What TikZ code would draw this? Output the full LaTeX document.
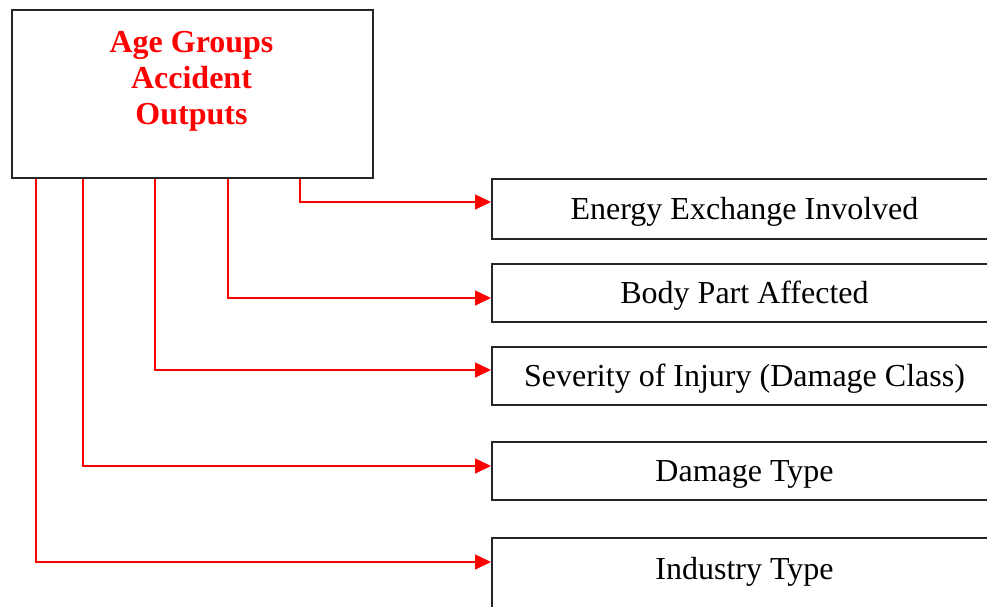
\documentclass[tikz,border=0pt]{standalone}
\usepackage{fontspec}
\setmainfont{Liberation Serif}
\usetikzlibrary{arrows.meta}
\begin{document}
\begin{tikzpicture}[x=1pt,y=-1pt,
  boxline/.style={draw=black!85,line width=2pt},
  outbox/.style={boxline,rectangle,anchor=north west,minimum width=505pt,inner sep=0pt,
     text height=27pt,text depth=7pt,font=\fontsize{32}{36}\selectfont},
  conn/.style={draw=red,line width=1.5pt,-{Triangle[length=16pt,width=15pt]}},
  titletext/.style={text=red,font=\fontsize{32}{36}\bfseries\selectfont,align=center}]
\useasboundingbox (0,0) rectangle (987,606);
\clip (0,0) rectangle (987,606);
\node[boxline,rectangle,anchor=north west,minimum width=361pt,minimum height=168pt,inner sep=0pt] (top) at (11,9) {};
\node[titletext] (title) at (191.5,81) {Age Groups\\Accident\\Outputs};
\node[outbox,minimum height=60pt] (b1) at (491,178) {Energy Exchange Involved};
\node[outbox,minimum height=58pt] (b2) at (491,263) {Body Part Affected};
\node[outbox,minimum height=58pt] (b3) at (491,346) {Severity of Injury (Damage Class)};
\node[outbox,minimum height=58pt] (b4) at (491,441) {Damage Type};
\node[outbox,text height=41pt,text depth=40pt] (b5) at (491,537) {Industry Type};
\draw[conn] ([xshift=289pt]top.south west) |- ([yshift=7pt]b1.west);
\draw[conn] ([xshift=217pt]top.south west) |- ([yshift=-5pt]b2.west);
\draw[conn] ([xshift=144pt]top.south west) |- ([yshift=6pt]b3.west);
\draw[conn] ([xshift=72pt]top.south west) |- ([yshift=5pt]b4.west);
\draw[conn] ([xshift=25pt]top.south west) |- (b5.west |- 0,562);
\end{tikzpicture}
\end{document}
